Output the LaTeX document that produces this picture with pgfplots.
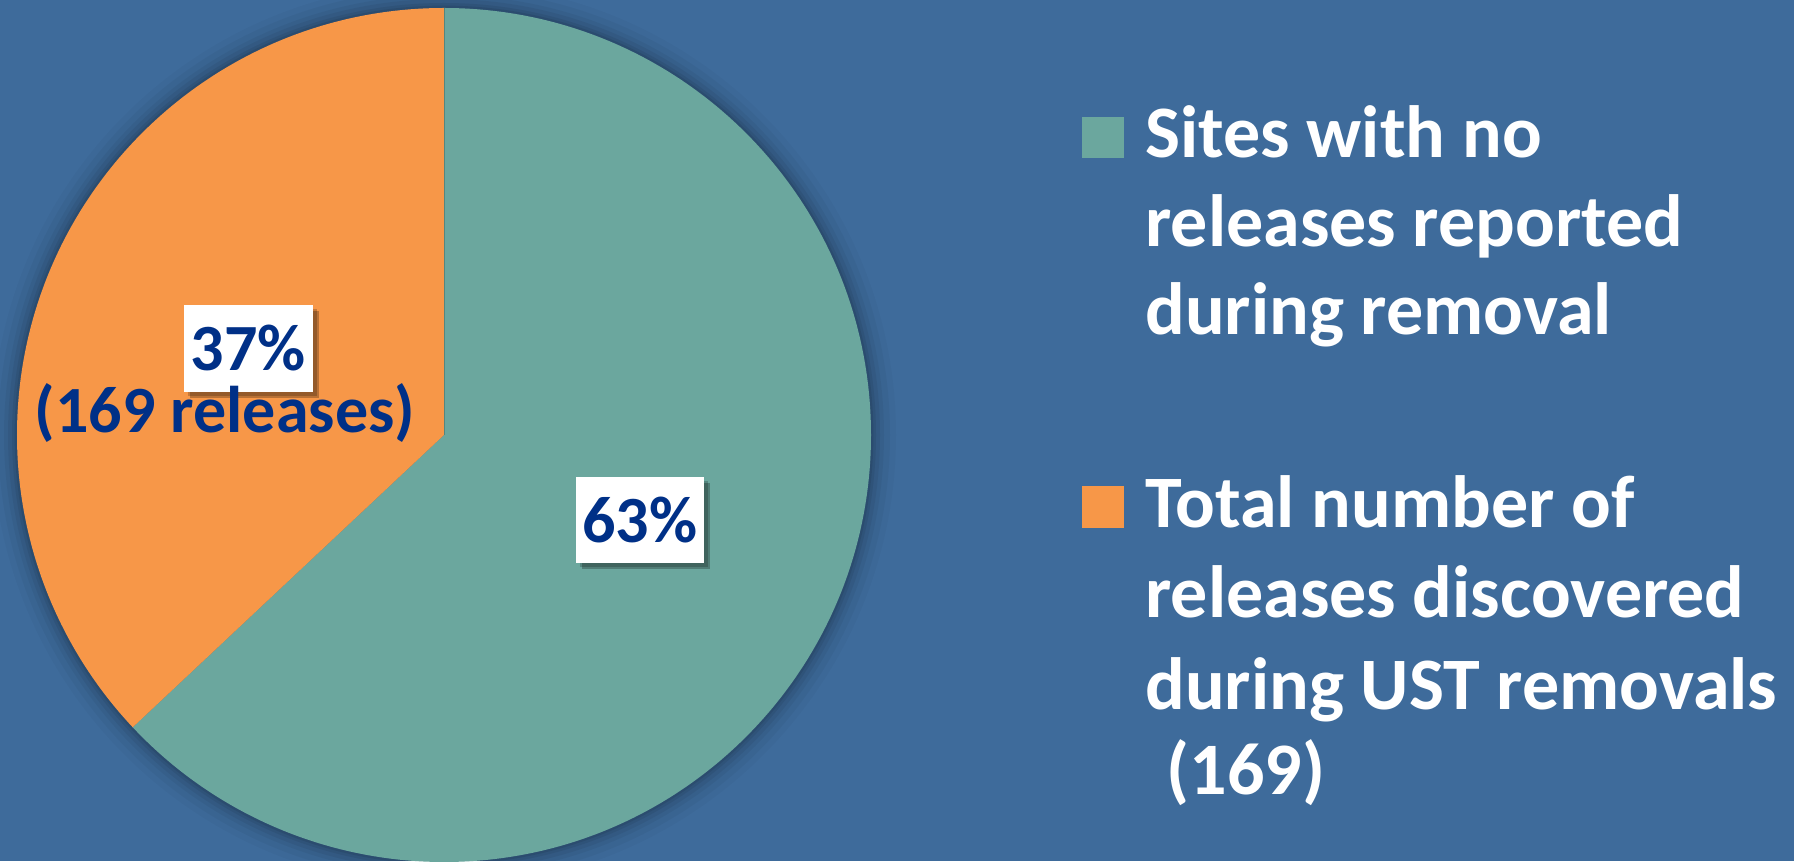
\documentclass[border=0pt]{standalone}
\usepackage{pgfplots}
\pgfplotsset{compat=1.18}
\usepackage{pgfplotstable}
\usepackage{fontspec}
\setmainfont{Carlito}
\definecolor{bgc}{RGB}{62,107,155}
\definecolor{tealc}{RGB}{107,167,158}
\definecolor{orangec}{RGB}{247,151,72}
\definecolor{navyc}{RGB}{0,48,135}

\pgfplotstableread{
label value
Sites 63
Releases 37
}\piedata
\pgfplotstablegetelem{0}{value}\of\piedata
\pgfmathsetmacro\va{\pgfplotsretval}
\pgfplotstablegetelem{1}{value}\of\piedata
\pgfmathsetmacro\vb{\pgfplotsretval}
\pgfmathsetmacro\angA{90-3.6*\va}
\pgfmathsetmacro\angB{90+3.6*\vb}

\begin{document}
\begin{tikzpicture}
\begin{axis}[
  width=897pt,height=430.5pt,scale only axis,
  xmin=0,xmax=1794,ymin=0,ymax=861,
  axis lines=none,clip=false,
]
\addplot[draw=none] coordinates {(0,0) (1794,861)};
\fill[bgc] (rel axis cs:0,0) rectangle (rel axis cs:1,1);
% soft shadow around the pie
\begin{scope}
\clip (rel axis cs:0,0) rectangle (rel axis cs:1,1);
\fill[black,opacity=0.025] (axis cs:444,426) circle[radius=226pt];
\fill[black,opacity=0.035] (axis cs:444,426) circle[radius=223pt];
\fill[black,opacity=0.045] (axis cs:444,426) circle[radius=220pt];
\fill[black,opacity=0.055] (axis cs:444,426) circle[radius=218pt];
\fill[black,opacity=0.065] (axis cs:444,426) circle[radius=216pt];
\fill[black,opacity=0.075] (axis cs:444,426) circle[radius=214.7pt];
\end{scope}
% pie sectors
\fill[tealc] (axis cs:444,426) -- ++(90:213.5pt) arc[start angle=90,end angle=\angA,radius=213.5pt] -- cycle;
\fill[orangec] (axis cs:444,426) -- ++(90:213.5pt) arc[start angle=90,end angle=\angB,radius=213.5pt] -- cycle;
\draw[tealc!80!black,line width=0.5pt] (axis cs:444,426) -- ++(90:213.5pt);
% label boxes with shadow
\fill[black,opacity=0.25] ([xshift=3pt,yshift=-3pt]axis cs:184,469) rectangle ([xshift=3pt,yshift=-3pt]axis cs:313,556);
\fill[black,opacity=0.2] ([xshift=2pt,yshift=-2pt]axis cs:184,469) rectangle ([xshift=2pt,yshift=-2pt]axis cs:313,556);
\fill[black,opacity=0.25] ([xshift=3pt,yshift=-3pt]axis cs:576,298) rectangle ([xshift=3pt,yshift=-3pt]axis cs:704,384);
\fill[black,opacity=0.2] ([xshift=2pt,yshift=-2pt]axis cs:576,298) rectangle ([xshift=2pt,yshift=-2pt]axis cs:704,384);
\fill[white] (axis cs:184,469) rectangle (axis cs:313,556);
\fill[white] (axis cs:576,298) rectangle (axis cs:704,384);
\node[font=\fontsize{33}{40}\selectfont\bfseries,text=navyc,inner sep=0pt] at (axis cs:248.5,512.5) {37\%};
\node[font=\fontsize{33}{40}\selectfont\bfseries,text=navyc,inner sep=0pt,anchor=base] at (axis cs:225,428) {(169 releases)};
\node[font=\fontsize{33}{40}\selectfont\bfseries,text=navyc,inner sep=0pt] at (axis cs:640,341) {63\%};
% legend
\fill[tealc] (axis cs:1082,703) rectangle (axis cs:1124,744);
\fill[orangec] (axis cs:1082,333) rectangle (axis cs:1124,375);
\node[font=\fontsize{37}{44}\selectfont\bfseries,text=white,inner sep=0pt,anchor=base west] at (axis cs:1145,703) {Sites with no};
\node[font=\fontsize{37}{44}\selectfont\bfseries,text=white,inner sep=0pt,anchor=base west] at (axis cs:1145,614) {releases reported};
\node[font=\fontsize{37}{44}\selectfont\bfseries,text=white,inner sep=0pt,anchor=base west] at (axis cs:1145,526) {during removal};
\node[font=\fontsize{37}{44}\selectfont\bfseries,text=white,inner sep=0pt,anchor=base west] at (axis cs:1145,333) {Total number of};
\node[font=\fontsize{37}{44}\selectfont\bfseries,text=white,inner sep=0pt,anchor=base west] at (axis cs:1145,243) {releases discovered};
\node[font=\fontsize{37}{44}\selectfont\bfseries,text=white,inner sep=0pt,anchor=base west] at (axis cs:1145,151) {during UST removals};
\node[font=\fontsize{37}{44}\selectfont\bfseries,text=white,inner sep=0pt,anchor=base west] at (axis cs:1166,66) {(169)};
\end{axis}
\end{tikzpicture}
\end{document}
